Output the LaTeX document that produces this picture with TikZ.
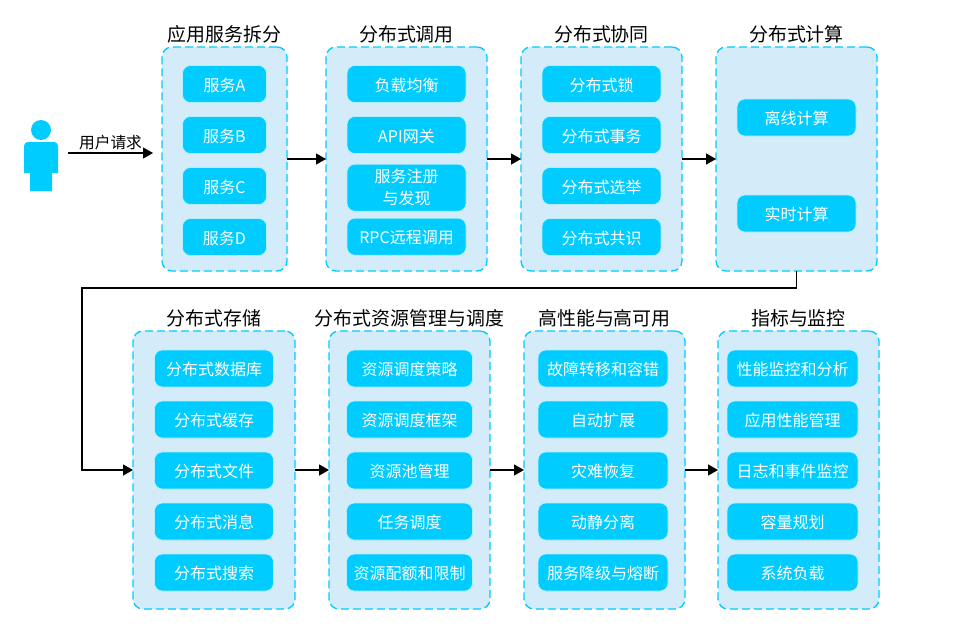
\documentclass[tikz,border=0pt]{standalone}
\usepackage{fontspec}
\setmainfont{Noto Sans CJK SC}
\usetikzlibrary{positioning,arrows.meta}
\definecolor{boxcyan}{HTML}{00CCFF}
\definecolor{grouppale}{HTML}{D4ECFA}

\begin{document}
\begin{tikzpicture}[
    x=0.75pt, y=-0.75pt,
    >={Triangle[black, length=7.5pt, width=8.25pt]},
    node distance=10.5pt,
    groupbox/.style={
        draw=boxcyan, fill=grouppale, line width=1pt, dash pattern=on 6pt off 3pt,
        rounded corners=7.5pt, minimum height=168pt, inner sep=0pt, outer sep=0pt
      },
    lowgroup/.style={groupbox, minimum height=208.5pt},
    itembox/.style={
        draw=white!70!boxcyan, fill=boxcyan, line width=0.5pt, rounded corners=6pt, text=white,
        minimum height=27.75pt, inner sep=0pt, outer sep=0pt, text height=12pt, text depth=1.5pt,
        font=\fontsize{12}{16.5}\selectfont, align=center
      },
    tallbox/.style={itembox, minimum height=35.25pt, text height=, text depth=},
    titletext/.style={font=\fontsize{14.2}{16}\selectfont, inner sep=0pt},
    flow/.style={->, line width=1pt},
  ]
  \useasboundingbox (0,0) rectangle (955,625);
  % person
  \fill[boxcyan] (41,130) circle[radius=10];
  \fill[boxcyan] (24,173) -- (24,147) [rounded corners=3pt] -- (24,142) -- (58,142) [sharp corners] -- (58,173) -- (52,173) -- (52,191) -- (30,191) -- (30,173) -- cycle;
  \coordinate (reqstart) at (68,153);
  \coordinate (reqend) at (153,153);
  \draw[flow] (reqstart) -- node[above=1.5pt, inner sep=0pt, font=\fontsize{11.8}{14}\selectfont]{用户请求} (reqend);

  % upper row
  \node[groupbox, minimum width=93.75pt] (split) at (224.5,159) {};
  \node[titletext] (splittitle) [above=3pt of split.north] {应用服务拆分};
  \node[itembox, minimum width=63pt] (svca) [below=13.9pt of split.north] {服务A};
  \node[itembox, minimum width=63pt] (svcb) [below=of svca] {服务B};
  \node[itembox, minimum width=63pt] (svcc) [below=of svcb] {服务C};
  \node[itembox, minimum width=63pt] (svcd) [below=of svcc] {服务D};

  \node[groupbox, minimum width=120.75pt] (call) at (406.5,159) {};
  \node[titletext] (calltitle) [above=3pt of call.north] {分布式调用};
  \node[itembox, minimum width=89.25pt] (balance) [below=13.9pt of call.north] {负载均衡};
  \node[itembox, minimum width=89.25pt] (gateway) [below=of balance] {API网关};
  \node[tallbox, minimum width=89.25pt] (registry) [below=8pt of gateway] {服务注册\\与发现};
  \node[itembox, minimum width=89.25pt] (rpc) [below=5.25pt of registry] {RPC远程调用};

  \node[groupbox, minimum width=120.75pt] (coord) at (601.5,159) {};
  \node[titletext] (coordtitle) [above=3pt of coord.north] {分布式协同};
  \node[itembox, minimum width=89.25pt] (lock) [below=13.9pt of coord.north] {分布式锁};
  \node[itembox, minimum width=89.25pt] (trans) [below=of lock] {分布式事务};
  \node[itembox, minimum width=89.25pt] (elect) [below=of trans] {分布式选举};
  \node[itembox, minimum width=89.25pt] (consensus) [below=of elect] {分布式共识};

  \node[groupbox, minimum width=120.75pt] (compute) at (796.5,159) {};
  \node[titletext] (computetitle) [above=3pt of compute.north] {分布式计算};
  \node[itembox, minimum width=89.25pt] (offline) [below=39pt of compute.north] {离线计算};
  \node[itembox, minimum width=89.25pt] (realtime) [below=44.25pt of offline] {实时计算};

  % lower row
  \node[lowgroup, minimum width=121.5pt] (store) at (214,470) {};
  \node[titletext] (storetitle) [above=3pt of store.north] {分布式存储};
  \node[itembox, minimum width=89.25pt] (database) [below=14.25pt of store.north] {分布式数据库};
  \node[itembox, minimum width=89.25pt] (cache) [below=of database] {分布式缓存};
  \node[itembox, minimum width=89.25pt] (files) [below=of cache] {分布式文件};
  \node[itembox, minimum width=89.25pt] (message) [below=of files] {分布式消息};
  \node[itembox, minimum width=89.25pt] (search) [below=of message] {分布式搜索};

  \node[lowgroup, minimum width=120.75pt] (resource) at (409.5,470) {};
  \node[titletext] (resourcetitle) [above=3pt of resource.north] {分布式资源管理与调度};
  \node[itembox, minimum width=94.5pt] (policy) [below=14.25pt of resource.north] {资源调度策略};
  \node[itembox, minimum width=94.5pt] (frame) [below=of policy] {资源调度框架};
  \node[itembox, minimum width=94.5pt] (pool) [below=of frame] {资源池管理};
  \node[itembox, minimum width=94.5pt] (task) [below=of pool] {任务调度};
  \node[itembox, minimum width=94.5pt] (quota) [below=of task] {资源配额和限制};

  \node[lowgroup, minimum width=120.75pt] (avail) at (604.5,470) {};
  \node[titletext] (availtitle) [above=3pt of avail.north] {高性能与高可用};
  \node[itembox, minimum width=97.5pt] (failover) [below=14.25pt of avail.north, xshift=-1.125pt] {故障转移和容错};
  \node[itembox, minimum width=97.5pt] (scale) [below=of failover] {自动扩展};
  \node[itembox, minimum width=97.5pt] (recover) [below=of scale] {灾难恢复};
  \node[itembox, minimum width=97.5pt] (static) [below=of recover] {动静分离};
  \node[itembox, minimum width=97.5pt] (degrade) [below=of static] {服务降级与熔断};

  \node[lowgroup, minimum width=120.75pt] (monitor) at (798.5,470) {};
  \node[titletext] (monitortitle) [above=3pt of monitor.north] {指标与监控};
  \node[itembox, minimum width=98.25pt] (perf) [below=14.25pt of monitor.north, xshift=-4.5pt] {性能监控和分析};
  \node[itembox, minimum width=98.25pt] (apm) [below=of perf] {应用性能管理};
  \node[itembox, minimum width=98.25pt] (logs) [below=of apm] {日志和事件监控};
  \node[itembox, minimum width=98.25pt] (capacity) [below=of logs] {容量规划};
  \node[itembox, minimum width=98.25pt] (sysload) [below=of capacity] {系统负载};

  \coordinate (turn) at (82,288);
  \draw[flow] (split) -- (call);
  \draw[flow] (call) -- (coord);
  \draw[flow] (coord) -- (compute);
  \draw[flow] (compute.south) |- (turn) |- (store.west);
  \draw[flow] (store) -- (resource);
  \draw[flow] (resource) -- (avail);
  \draw[flow] (avail) -- (monitor);
\end{tikzpicture}
\end{document}
